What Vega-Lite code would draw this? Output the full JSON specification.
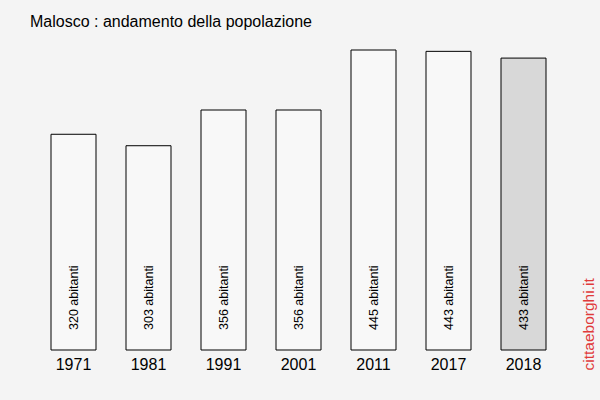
{
  "$schema": "https://vega.github.io/schema/vega-lite/v6.json",
  "width": 525,
  "height": 300,
  "autosize": "none",
  "padding": {"left": 36, "top": 50, "right": 39, "bottom": 50},
  "background": "#f4f4f4",
  "config": {"view": {"stroke": null}, "font": "Liberation Sans"},
  "title": {"text": "Malosco : andamento della popolazione", "anchor": "start", "dx": -6, "offset": 20, "fontSize": 16, "fontWeight": "normal", "color": "#000000", "font": "Liberation Sans"},
  "data": {"values": [
    {"anno": "1971", "pop": 320, "label": "320 abitanti", "last": "no"},
    {"anno": "1981", "pop": 303, "label": "303 abitanti", "last": "no"},
    {"anno": "1991", "pop": 356, "label": "356 abitanti", "last": "no"},
    {"anno": "2001", "pop": 356, "label": "356 abitanti", "last": "no"},
    {"anno": "2011", "pop": 445, "label": "445 abitanti", "last": "no"},
    {"anno": "2017", "pop": 443, "label": "443 abitanti", "last": "no"},
    {"anno": "2018", "pop": 433, "label": "433 abitanti", "last": "yes"}
  ]},
  "encoding": {
    "x": {"field": "anno", "type": "nominal", "sort": null,
      "scale": {"paddingInner": 0.4, "paddingOuter": 0.2},
      "axis": {"title": null, "domain": false, "ticks": false, "labelAngle": 0, "labelFontSize": 16, "labelColor": "#000000", "labelPadding": 6, "labelFont": "Liberation Sans"}}
  },
  "layer": [
    {
      "mark": {"type": "bar", "stroke": "#000000", "strokeWidth": 1},
      "encoding": {
        "y": {"field": "pop", "type": "quantitative", "scale": {"domain": [0, 445], "nice": false},
          "axis": {"orient": "right", "labels": false, "ticks": false, "domain": false, "grid": false,
            "title": "cittaeborghi.it", "titleColor": "#e03a3a", "titleFontSize": 15.5, "titleFontWeight": "normal", "titleFont": "Liberation Sans",
            "titleAngle": 270, "titleAlign": "left", "titleBaseline": "middle", "titleX": 27, "titleY": 320}},
        "fill": {"field": "last", "type": "nominal", "scale": {"domain": ["no", "yes"], "range": ["#f8f8f8", "#d8d8d8"]}, "legend": null}
      }
    },
    {
      "mark": {"type": "text", "angle": 270, "align": "left", "baseline": "middle", "fontSize": 12.5, "color": "#000000"},
      "encoding": {
        "y": {"datum": 0, "type": "quantitative"},
        "yOffset": {"value": -20},
        "text": {"field": "label"}
      }
    }
  ]
}
